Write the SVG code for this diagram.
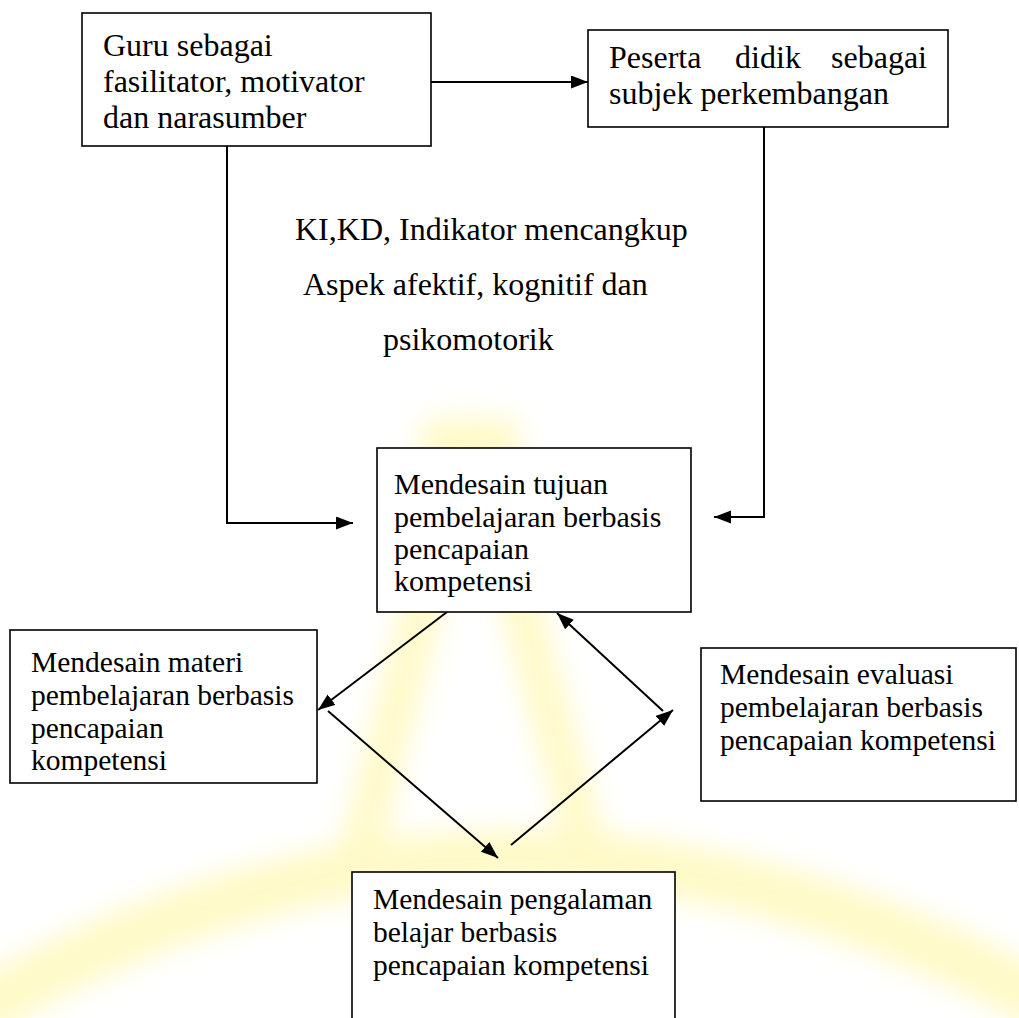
<svg xmlns="http://www.w3.org/2000/svg" width="1019" height="1018" viewBox="0 0 1019 1018">
<style>
.box{fill:#fff;stroke:#000;stroke-width:1.6}
.t{font-family:"Liberation Serif","Times New Roman",serif;fill:#000}
.t32{font-size:32px}
.t30{font-size:30px}
.t29{font-size:29.5px}
.c{fill:none;stroke:#000;stroke-width:2;marker-end:url(#ah)}
</style>
<defs>
<marker id="ah" markerUnits="userSpaceOnUse" markerWidth="18" markerHeight="14" refX="17" refY="6.5" orient="auto">
<path d="M0,0 L17,6.5 L0,13 z" fill="#000"/>
</marker>
<filter id="blur" x="-20%" y="-20%" width="140%" height="140%"><feGaussianBlur stdDeviation="14"/></filter>
</defs>
<rect width="1019" height="1018" fill="#fff"/>
<g id="watermark" filter="url(#blur)" opacity="0.22" fill="none" stroke="#ffe600">
<path d="M-30 1015 Q 500 705 1050 1005" stroke-width="55"/>
<path d="M470 420 L355 870 M470 420 L590 860" stroke-width="40"/>
<path d="M420 440 L520 440" stroke-width="40"/>
</g>
<g id="connectors">
<line class="c" x1="431" y1="82" x2="588" y2="82"/>
<polyline class="c" points="227,146 227,523 353,523"/>
<polyline class="c" points="764,127 764,517 714,517"/>
<line class="c" x1="447" y1="612" x2="318" y2="710"/>
<line class="c" x1="328" y1="711" x2="498" y2="858"/>
<line class="c" x1="511" y1="845" x2="673" y2="710"/>
<line class="c" x1="663" y1="711" x2="557" y2="613"/>
</g>
<g id="node-guru">
<rect class="box" x="82" y="13" width="349" height="133"/>
<text class="t t32" x="103" y="56">Guru sebagai</text>
<text class="t t32" x="103" y="92">fasilitator, motivator</text>
<text class="t t32" x="103" y="128">dan narasumber</text>
</g>
<g id="node-peserta">
<rect class="box" x="588" y="30" width="360" height="97"/>
<text class="t t32" x="609" y="68">Peserta</text>
<text class="t t32" x="768" y="68" text-anchor="middle">didik</text>
<text class="t t32" x="927" y="68" text-anchor="end">sebagai</text>
<text class="t t32" x="609" y="104">subjek perkembangan</text>
</g>
<g id="label-ki">
<text class="t t32" x="295" y="240">KI,KD, Indikator mencangkup</text>
<text class="t t32" x="303" y="295">Aspek afektif, kognitif dan</text>
<text class="t t32" x="383" y="350">psikomotorik</text>
</g>
<g id="node-tujuan">
<rect class="box" x="377" y="448" width="314" height="164"/>
<text class="t t30" x="394" y="494">Mendesain tujuan</text>
<text class="t t30" x="394" y="527">pembelajaran berbasis</text>
<text class="t t30" x="394" y="559">pencapaian</text>
<text class="t t30" x="394" y="591">kompetensi</text>
</g>
<g id="node-materi">
<rect class="box" x="10" y="630" width="307" height="153"/>
<text class="t t29" x="31" y="672">Mendesain materi</text>
<text class="t t29" x="31" y="705">pembelajaran berbasis</text>
<text class="t t29" x="31" y="738">pencapaian</text>
<text class="t t29" x="31" y="770">kompetensi</text>
</g>
<g id="node-evaluasi">
<rect class="box" x="701" y="648" width="315" height="153"/>
<text class="t t29" x="720" y="684">Mendesain evaluasi</text>
<text class="t t29" x="720" y="717">pembelajaran berbasis</text>
<text class="t t29" x="720" y="750">pencapaian kompetensi</text>
</g>
<g id="node-pengalaman">
<rect class="box" x="352" y="872" width="323" height="160"/>
<text class="t t29" x="373" y="909">Mendesain pengalaman</text>
<text class="t t29" x="373" y="942">belajar berbasis</text>
<text class="t t29" x="373" y="975">pencapaian kompetensi</text>
</g>
</svg>
